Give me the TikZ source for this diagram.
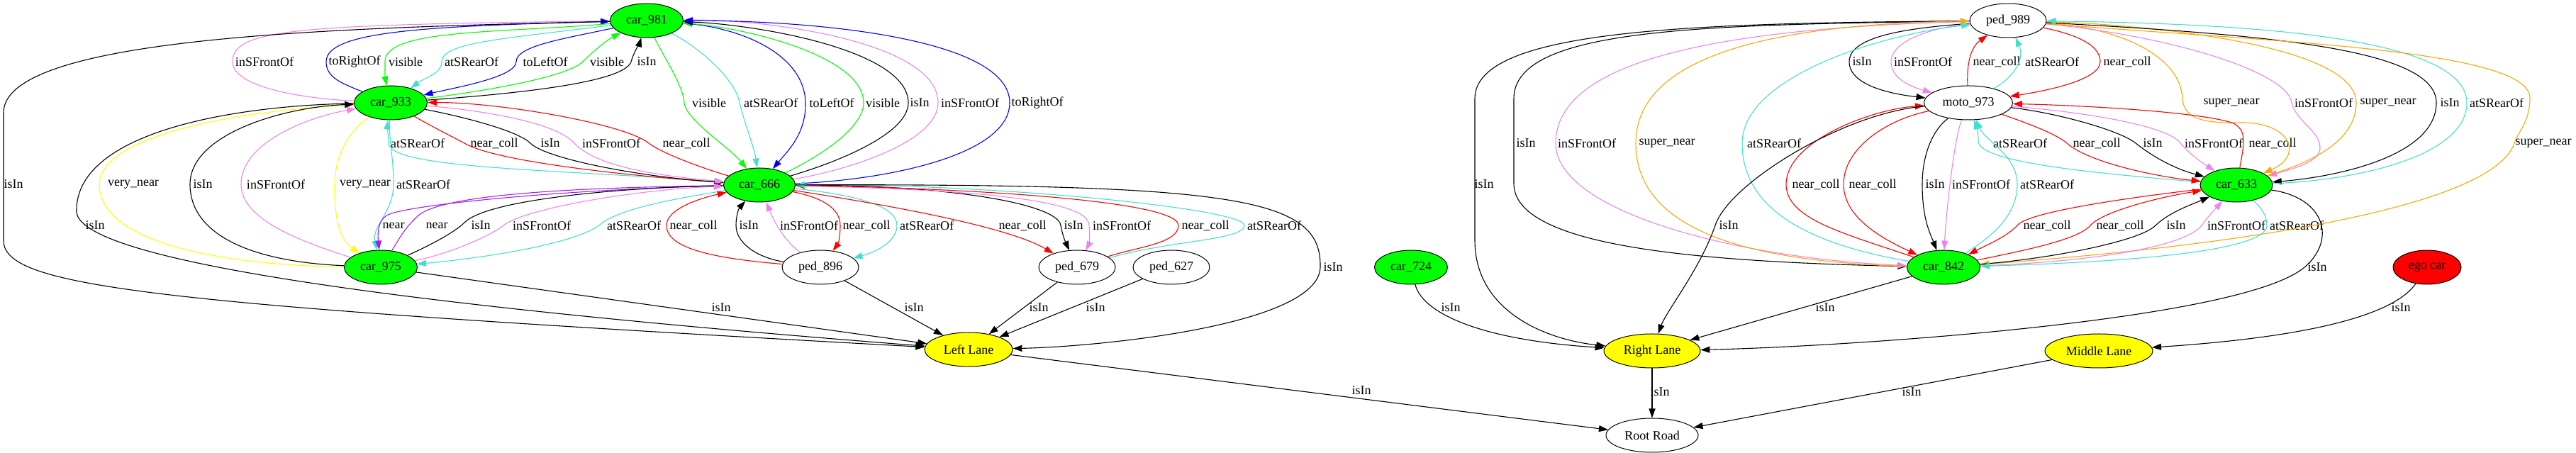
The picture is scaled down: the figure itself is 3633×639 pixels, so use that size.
\documentclass[tikz,border=0pt]{standalone}
\usepackage{fontspec}
\setmainfont{Liberation Serif}
\usetikzlibrary{arrows.meta,shapes.geometric}
\definecolor{grn}{HTML}{00FF00}
\definecolor{vio}{HTML}{EE82EE}
\definecolor{tq}{HTML}{40E0D0}
\definecolor{blu}{HTML}{0000FF}
\definecolor{rd}{HTML}{FF0000}
\definecolor{yel}{HTML}{FFFF00}
\definecolor{pur}{HTML}{A020F0}
\definecolor{org}{HTML}{FFA500}
\newcommand\myfnt{\fontsize{18}{21}\selectfont}
\begin{document}
\begin{tikzpicture}[x=1pt,y=1pt,
  nd/.style={ellipse, draw=black, line width=1pt, minimum height=48pt, inner sep=0pt, font=\myfnt},
  car/.style={nd, fill=grn, minimum width=103pt},
  ped/.style={nd, fill=white, minimum width=108pt},
  lane/.style={nd, fill=yel},
  lb/.style={inner sep=0pt, font=\myfnt},
  ed/.style={draw=#1, line width=1.1pt, -{Triangle[length=13pt,width=9pt]}},
  ed/.default=black]
\useasboundingbox (0,0) rectangle (3633,639);
% nodes
\node[car] (car981) at (912,610) {car\_981};
\node[car] (car933) at (551,494) {car\_933};
\node[car, minimum width=101pt] (car666) at (1071,378) {car\_666};
\node[car] (car975) at (537,262) {car\_975};
\node[ped] (ped896) at (1157,262) {ped\_896};
\node[ped] (ped679) at (1519,262) {ped\_679};
\node[ped] (ped627) at (1652,262) {ped\_627};
\node[lane, minimum width=124pt] (leftlane) at (1366,146) {Left Lane};
\node[car] (car724) at (1990,262) {car\_724};
\node[ped] (ped989) at (2832,610) {ped\_989};
\node[ped, minimum width=125pt] (moto973) at (2776,494) {moto\_973};
\node[car, minimum width=102pt] (car633) at (3154,378) {car\_633};
\node[car] (car842) at (2741,262) {car\_842};
\node[nd, fill=rd, minimum width=96pt] (ego) at (3423,262) {ego car};
\node[lane, minimum width=136pt] (rightlane) at (2330,144) {Right Lane};
\node[lane, minimum width=152pt] (middlelane) at (2960,144) {Middle Lane};
\node[nd, fill=white, minimum width=130pt] (rootroad) at (2330,25) {Root Road};
% labels
\node[lb] (L1) at (373,552) {inSFrontOf};
\node[lb] (L2) at (500,552) {toRightOf};
\node[lb] (L3) at (572,552) {visible};
\node[lb] (L4) at (665,552) {atSRearOf};
\node[lb] (L5) at (769,552) {toLeftOf};
\node[lb] (L6) at (856,552) {visible};
\node[lb] (L7) at (912,552) {isIn};
\node[lb] (M1) at (1000,494) {visible};
\node[lb] (M2) at (1087,494) {atSRearOf};
\node[lb] (M3) at (1173,494) {toLeftOf};
\node[lb] (M4) at (1245,494) {visible};
\node[lb] (M5) at (1297,494) {isIn};
\node[lb] (M6) at (1368,494) {inSFrontOf};
\node[lb] (M7) at (1463,494) {toRightOf};
\node[lb] (N1) at (589,437) {atSRearOf};
\node[lb] (N2) at (697,437) {near\_coll};
\node[lb] (N3) at (776,437) {isIn};
\node[lb] (N4) at (862,437) {inSFrontOf};
\node[lb] (N5) at (968,437) {near\_coll};
\node[lb] (P1) at (19,379) {isIn};
\node[lb] (P2) at (188,379) {very\_near};
\node[lb] (P3) at (286,379) {isIn};
\node[lb] (P4) at (389,379) {inSFrontOf};
\node[lb] (P5) at (515,379) {very\_near};
\node[lb] (P6) at (597,379) {atSRearOf};
\node[lb] (Q1) at (134,321) {isIn};
\node[lb] (Q2) at (555,321) {near};
\node[lb] (Q3) at (616,321) {near};
\node[lb] (Q4) at (678,321) {isIn};
\node[lb] (Q5) at (764,321) {inSFrontOf};
\node[lb] (Q6) at (894,321) {atSRearOf};
\node[lb] (Q7) at (978,321) {near\_coll};
\node[lb] (Q8) at (1056,321) {isIn};
\node[lb] (Q9) at (1141,321) {inSFrontOf};
\node[lb] (Q10) at (1222,321) {near\_coll};
\node[lb] (Q11) at (1307,321) {atSRearOf};
\node[lb] (Q12) at (1442,321) {near\_coll};
\node[lb] (Q13) at (1514,321) {isIn};
\node[lb] (Q14) at (1582,321) {inSFrontOf};
\node[lb] (Q15) at (1700,321) {near\_coll};
\node[lb] (Q16) at (1797,321) {atSRearOf};
\node[lb] (S1) at (1880,262) {isIn};
\node[lb] (T1) at (1017,205) {isIn};
\node[lb] (T2) at (1289,205) {isIn};
\node[lb] (T3) at (1465,205) {isIn};
\node[lb] (T4) at (1545,205) {isIn};
\node[lb] (U1) at (1920,88) {isIn};
\node[lb] (R1) at (2626,552) {isIn};
\node[lb] (R2) at (2712,552) {inSFrontOf};
\node[lb] (R3) at (2816,552) {near\_coll};
\node[lb] (R4) at (2894,552) {atSRearOf};
\node[lb] (R5) at (3000,552) {near\_coll};
\node[lb] (R6) at (3147,494) {super\_near};
\node[lb] (R7) at (3277,494) {inSFrontOf};
\node[lb] (R8) at (3368,494) {super\_near};
\node[lb] (R9) at (3455,494) {isIn};
\node[lb] (R10) at (3521,494) {atSRearOf};
\node[lb] (R11) at (2152,437) {isIn};
\node[lb] (R12) at (2238,437) {inSFrontOf};
\node[lb] (R13) at (2351,437) {super\_near};
\node[lb] (R14) at (2502,437) {atSRearOf};
\node[lb] (R15) at (2849,437) {atSRearOf};
\node[lb] (R16) at (2957,437) {near\_coll};
\node[lb] (R17) at (3036,437) {isIn};
\node[lb] (R18) at (3122,437) {inSFrontOf};
\node[lb] (R19) at (3205,437) {near\_coll};
\node[lb] (R20) at (3587,437) {super\_near};
\node[lb] (R21) at (2093,379) {isIn};
\node[lb] (R22) at (2561,379) {near\_coll};
\node[lb] (R23) at (2641,379) {near\_coll};
\node[lb] (R24) at (2729,379) {isIn};
\node[lb] (R25) at (2794,379) {inSFrontOf};
\node[lb] (R26) at (2887,379) {atSRearOf};
\node[lb] (R27) at (2438,321) {isIn};
\node[lb] (R28) at (2887,321) {near\_coll};
\node[lb] (R29) at (2990,321) {near\_coll};
\node[lb] (R30) at (3069,321) {isIn};
\node[lb] (R31) at (3154,321) {inSFrontOf};
\node[lb] (R32) at (3239,321) {atSRearOf};
\node[lb] (S2) at (3268,262) {isIn};
\node[lb] (T5) at (2046,205) {isIn};
\node[lb] (T6) at (2574,205) {isIn};
\node[lb] (T7) at (3386,205) {isIn};
\node[lb] (U2) at (2341,86) {isIn};
\node[lb] (U3) at (2696,86) {isIn};
% ---- left cluster edges ----
\draw[ed=vio] (car933) .. controls (430,500) and (328,515) .. (328,552) .. controls (328,598) and (420,604) .. (car981);
\draw[ed=blu] (car933) .. controls (480,522) and (460,530) .. (460,552) .. controls (460,595) and (600,602) .. (car981);
\draw[ed=grn] (car981) .. controls (700,592) and (543,598) .. (543,552) .. controls (543,540) and (543,530) .. (car933);
\draw[ed=tq] (car981) .. controls (720,585) and (623,580) .. (623,552) .. controls (623,535) and (600,530) .. (car933);
\draw[ed=blu] (car981) .. controls (800,585) and (728,575) .. (728,552) .. controls (728,530) and (640,515) .. (car933);
\draw[ed=grn] (car933) .. controls (680,510) and (800,530) .. (822,552) .. controls (840,570) and (860,585) .. (car981);
\draw[ed] (car933) .. controls (700,505) and (880,520) .. (890,552) .. controls (895,568) and (902,578) .. (car981);
\draw[ed] (car981) .. controls (500,600) and (5,590) .. (5,480) -- (5,300) .. controls (5,235) and (200,210) .. (leftlane);
\draw[ed=grn] (car981) .. controls (935,560) and (963,520) .. (965,494) .. controls (967,470) and (1030,430) .. (car666);
\draw[ed=tq] (car981) .. controls (990,570) and (1038,525) .. (1043,494) .. controls (1050,465) and (1064,430) .. (car666);
\draw[ed=blu] (car981) .. controls (1050,600) and (1135,560) .. (1136,494) .. controls (1137,450) and (1110,425) .. (car666);
\draw[ed=grn] (car666) .. controls (1160,420) and (1218,460) .. (1218,494) .. controls (1218,560) and (1050,600) .. (car981);
\draw[ed] (car666) .. controls (1180,410) and (1281,450) .. (1281,494) .. controls (1281,570) and (1060,605) .. (car981);
\draw[ed=vio] (car666) .. controls (1200,400) and (1323,440) .. (1323,494) .. controls (1323,580) and (1080,612) .. (car981);
\draw[ed=blu] (car666) .. controls (1250,385) and (1424,420) .. (1424,494) .. controls (1424,585) and (1150,610) .. (car981);
\draw[ed=tq] (car666) .. controls (800,400) and (548,400) .. (548,437) .. controls (548,450) and (546,460) .. (car933);
\draw[ed=rd] (car933) .. controls (610,460) and (640,445) .. (655,437) .. controls (700,410) and (900,390) .. (car666);
\draw[ed] (car933) .. controls (650,475) and (730,455) .. (748,437) .. controls (770,415) and (900,390) .. (car666);
\draw[ed=vio] (car933) .. controls (660,485) and (780,470) .. (810,437) .. controls (840,405) and (920,392) .. (car666);
\draw[ed=rd] (car666) .. controls (980,405) and (930,425) .. (915,437) .. controls (880,465) and (700,495) .. (car933);
\draw[ed=yel] (car975) .. controls (300,265) and (140,300) .. (140,379) .. controls (140,440) and (300,480) .. (car933);
\draw[ed] (car975) .. controls (350,270) and (268,310) .. (268,379) .. controls (268,450) and (400,488) .. (car933);
\draw[ed] (car933) .. controls (320,490) and (105,450) .. (108,340) .. controls (112,290) and (350,225) .. (leftlane);
\draw[ed=vio] (car975) .. controls (420,300) and (340,330) .. (340,379) .. controls (340,440) and (440,475) .. (car933);
\draw[ed=yel] (car933) .. controls (500,460) and (473,430) .. (472,379) .. controls (471,330) and (480,300) .. (car975);
\draw[ed=tq] (car933) .. controls (548,440) and (555,420) .. (555,379) .. controls (555,340) and (524,320) .. (car975);
\draw[ed=pur] (car666) .. controls (800,372) and (570,350) .. (545,335) .. controls (535,328) and (532,315) .. (car975);
\draw[ed=pur] (car975) .. controls (562,300) and (570,317) .. (590,335) .. controls (630,370) and (880,375) .. (car666);
\draw[ed] (car975) .. controls (600,290) and (640,310) .. (655,325) .. controls (690,360) and (900,375) .. (car666);
\draw[ed=vio] (car975) .. controls (630,280) and (690,305) .. (710,321) .. controls (740,345) and (900,372) .. (car666);
\draw[ed=tq] (car666) .. controls (960,360) and (870,345) .. (845,321) .. controls (800,290) and (650,272) .. (car975);
\draw[ed=rd] (ped896) .. controls (1000,275) and (940,290) .. (940,321) .. controls (940,345) and (990,360) .. (car666);
\draw[ed] (ped896) .. controls (1070,275) and (1038,295) .. (1038,321) .. controls (1038,335) and (1042,345) .. (car666);
\draw[ed=vio] (ped896) .. controls (1105,300) and (1090,330) .. (car666);
\draw[ed=rd] (car666) .. controls (1160,360) and (1185,345) .. (1185,321) .. controls (1185,305) and (1182,295) .. (ped896);
\draw[ed=tq] (car666) .. controls (1200,365) and (1265,350) .. (1265,321) .. controls (1265,300) and (1240,285) .. (ped896);
\draw[ed=rd] (car666) .. controls (1250,350) and (1420,320) .. (ped679);
\draw[ed] (car666) .. controls (1350,378) and (1492,350) .. (1496,321) .. controls (1499,305) and (1503,297) .. (ped679);
\draw[ed=vio] (car666) .. controls (1350,372) and (1536,360) .. (1536,321) .. controls (1537,305) and (1536,295) .. (ped679);
\draw[ed=rd] (ped679) .. controls (1600,290) and (1662,295) .. (1662,321) .. controls (1662,360) and (1300,375) .. (car666);
\draw[ed=tq] (ped679) .. controls (1650,300) and (1755,300) .. (1755,321) .. controls (1755,345) and (1400,380) .. (car666);
\draw[ed] (car666) .. controls (1750,380) and (1864,360) .. (1862,262) .. controls (1860,180) and (1550,150) .. (leftlane);
\draw[ed] (car975) -- (leftlane);
\draw[ed] (ped896) -- (leftlane);
\draw[ed] (ped679) -- (leftlane);
\draw[ed] (ped627) -- (leftlane);
\draw[ed] (leftlane) -- (rootroad);
% ---- right cluster edges ----
\draw[ed] (ped989) .. controls (2700,600) and (2608,590) .. (2608,552) .. controls (2608,515) and (2680,505) .. (moto973);
\draw[ed=vio] (ped989) .. controls (2720,600) and (2667,580) .. (2667,552) .. controls (2667,530) and (2690,518) .. (moto973);
\draw[ed=rd] (moto973) .. controls (2774,540) and (2776,570) .. (ped989);
\draw[ed=tq] (moto973) .. controls (2840,530) and (2856,555) .. (ped989);
\draw[ed=rd] (ped989) .. controls (2930,590) and (2962,575) .. (2962,552) .. controls (2962,525) and (2880,510) .. (moto973);
\draw[ed=org] (ped989) .. controls (2990,600) and (3075,560) .. (3078,500) .. controls (3080,470) and (3110,465) .. (3160,466) .. controls (3230,467) and (3250,420) .. (car633);
\draw[ed=vio] (ped989) .. controls (3050,590) and (3225,540) .. (3232,494) .. controls (3240,465) and (3272,455) .. (3272,430) .. controls (3272,410) and (3230,400) .. (car633);
\draw[ed=org] (car633) .. controls (3260,410) and (3323,440) .. (3323,494) .. controls (3323,580) and (3000,605) .. (ped989);
\draw[ed] (ped989) .. controls (3200,590) and (3436,570) .. (3436,494) .. controls (3436,420) and (3300,390) .. (car633);
\draw[ed=tq] (car633) .. controls (3330,385) and (3479,420) .. (3479,494) .. controls (3479,590) and (3150,606) .. (ped989);
\draw[ed=org] (ped989) .. controls (3200,580) and (3570,570) .. (3568,500) .. controls (3567,465) and (3552,455) .. (3546,437) .. controls (3520,360) and (3250,300) .. (car842);
\draw[ed] (ped989) .. controls (2400,604) and (2135,600) .. (2135,500) -- (2135,380) .. controls (2135,290) and (2400,270) .. (car842);
\draw[ed] (ped989) .. controls (2400,606) and (2080,600) .. (2080,500) -- (2080,300) .. controls (2080,200) and (2180,160) .. (rightlane);
\draw[ed=vio] (ped989) .. controls (2450,600) and (2194,560) .. (2194,437) .. controls (2194,340) and (2450,275) .. (car842);
\draw[ed=org] (car842) .. controls (2450,270) and (2307,320) .. (2307,437) .. controls (2307,560) and (2500,605) .. (ped989);
\draw[ed=tq] (car842) .. controls (2520,300) and (2457,360) .. (2457,437) .. controls (2457,530) and (2650,590) .. (ped989);
\draw[ed=rd] (car842) .. controls (2600,310) and (2519,330) .. (2519,379) .. controls (2519,440) and (2640,485) .. (moto973);
\draw[ed=rd] (moto973) .. controls (2660,470) and (2600,430) .. (2600,379) .. controls (2600,330) and (2660,300) .. (car842);
\draw[ed] (moto973) .. controls (2725,455) and (2711,420) .. (2711,379) .. controls (2711,330) and (2722,310) .. (car842);
\draw[ed=vio] (moto973) .. controls (2755,440) and (2744,330) .. (car842);
\draw[ed=tq] (car842) .. controls (2800,300) and (2845,330) .. (2845,379) .. controls (2845,420) and (2800,440) .. (moto973);
\draw[ed] (moto973) .. controls (2600,480) and (2438,380) .. (2419,321) .. controls (2398,260) and (2350,200) .. (rightlane);
\draw[ed=tq] (car633) .. controls (2950,395) and (2790,410) .. (2790,440) .. controls (2790,452) and (2788,458) .. (moto973);
\draw[ed=rd] (moto973) .. controls (2860,465) and (2900,450) .. (2915,437) .. controls (2945,410) and (3040,390) .. (car633);
\draw[ed] (moto973) .. controls (2900,480) and (2990,455) .. (3012,437) .. controls (3040,415) and (3070,400) .. (car633);
\draw[ed=vio] (moto973) .. controls (2950,480) and (3060,460) .. (3075,437) .. controls (3090,420) and (3105,410) .. (car633);
\draw[ed=rd] (car633) .. controls (3166,440) and (3168,455) .. (3150,465) .. controls (3110,480) and (2950,490) .. (moto973);
\draw[ed=rd] (car633) .. controls (3000,360) and (2860,340) .. (2845,321) .. controls (2830,305) and (2805,295) .. (car842);
\draw[ed=rd] (car842) .. controls (2850,285) and (2930,300) .. (2948,321) .. controls (2965,340) and (3040,360) .. (car633);
\draw[ed] (car842) .. controls (2900,275) and (3020,300) .. (3040,321) .. controls (3060,340) and (3090,350) .. (car633);
\draw[ed=vio] (car842) .. controls (2950,270) and (3080,290) .. (3105,321) .. controls (3115,335) and (3125,345) .. (car633);
\draw[ed=tq] (car633) .. controls (3190,345) and (3197,335) .. (3197,321) .. controls (3197,280) and (2950,268) .. (car842);
\draw[ed] (car633) .. controls (3280,360) and (3295,300) .. (3250,262) .. controls (3160,186) and (2600,150) .. (rightlane);
\draw[ed] (car724) .. controls (2005,200) and (2080,160) .. (rightlane);
\draw[ed] (car842) -- (rightlane);
\draw[ed] (ego) .. controls (3380,200) and (3280,165) .. (middlelane);
\draw[ed] (rightlane) -- (rootroad);
\draw[ed] (middlelane) -- (rootroad);
\end{tikzpicture}
\end{document}
